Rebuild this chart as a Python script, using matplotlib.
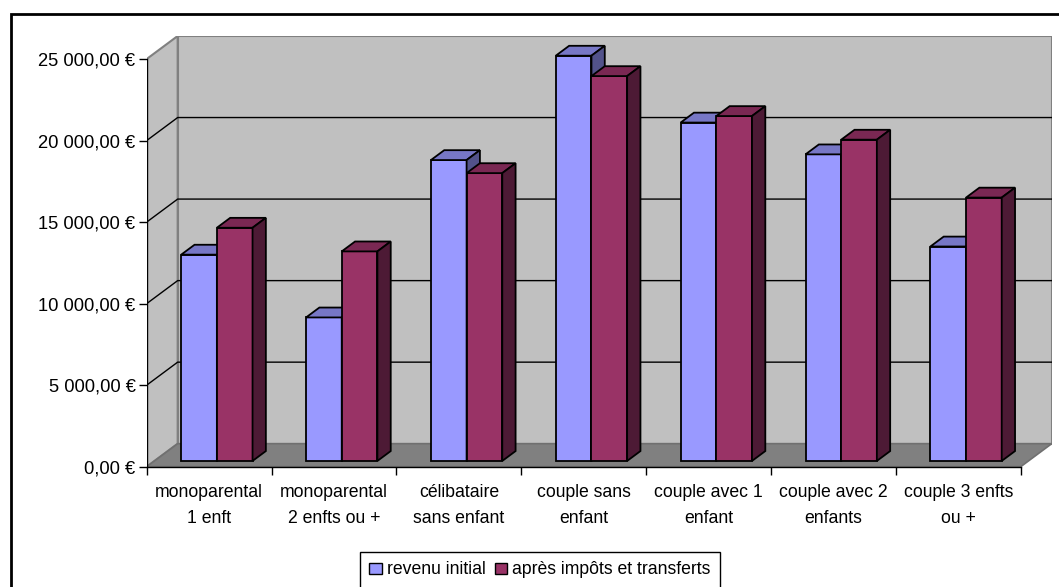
import numpy as np
import matplotlib.pyplot as plt
from matplotlib.patches import Polygon, Rectangle, Patch

plt.rcParams['font.family'] = ['Liberation Sans', 'DejaVu Sans']

categories = ["monoparental\n1 enft", "monoparental\n2 enfts ou +", "célibataire\nsans enfant",
              "couple sans\nenfant", "couple avec 1\nenfant", "couple avec 2\nenfants",
              "couple 3 enfts\nou +"]
revenu_initial = [12650, 8800, 18450, 24850, 20750, 18800, 13150]
apres_impots = [14300, 12850, 17650, 23600, 21150, 19700, 16150]
series = ["revenu initial", "après impôts et transferts"]
yticks = [0, 5000, 10000, 15000, 20000, 25000]

# colours: front, top, side
col_blue = ("#9999ff", "#7777c6", "#52528a")
col_red = ("#993366", "#7a2853", "#4d1a35")

# fake 3d depth (in data units)
DX = 0.248
DY = 1411
f0, f1 = 0.25, 0.68
w = 0.2857
ymax = 25000
n = len(categories)

fig = plt.figure(figsize=(10.59, 5.87), dpi=100)
ax = fig.add_axes([146.7/1059, 1-466.7/587, 905/1059, 430.7/587])
ax.set_xlim(0, n + DX)
ax.set_ylim(0, ymax + DY)
for s in ax.spines.values():
    s.set_visible(False)

# walls
ax.add_patch(Rectangle((DX, DY), n, ymax, facecolor="#c0c0c0", edgecolor="#808080", lw=1.5, zorder=0))
ax.add_patch(Polygon([(0, 0), (DX, DY), (DX, ymax+DY), (0, ymax)], closed=True,
                     facecolor="#c0c0c0", edgecolor="#808080", lw=1.5, zorder=0))
ax.add_patch(Polygon([(0, 0), (n, 0), (n+DX, DY), (DX, DY)], closed=True,
                     facecolor="#808080", edgecolor="#707070", lw=1.2, zorder=0.5))

# gridlines
for v in yticks[1:-1]:
    ax.plot([0, DX, n+DX], [v, v+DY, v+DY], color="black", lw=1, zorder=1)

# axes lines
ax.plot([0, 0], [0, ymax], color="black", lw=1, zorder=2)
ax.plot([0, n], [0, 0], color="black", lw=1, zorder=2, clip_on=False)

d = f1 - f0
k = 0
for i in range(n):
    for s, (vals, cols) in enumerate([(revenu_initial, col_blue), (apres_impots, col_red)]):
        v = vals[i]
        x0 = i + 0.5 - w + s*w + f0*DX
        y0 = f0*DY
        z = 3 + k*0.01
        ax.bar(x0, v, width=w, bottom=y0, align='edge', color=cols[0], edgecolor="black", lw=1.3, zorder=z)
        ax.add_patch(Polygon([(x0, y0+v), (x0+w, y0+v), (x0+w+d*DX, y0+v+d*DY), (x0+d*DX, y0+v+d*DY)],
                             closed=True, facecolor=cols[1], edgecolor="black", lw=1.3, zorder=z))
        ax.add_patch(Polygon([(x0+w, y0), (x0+w+d*DX, y0+d*DY), (x0+w+d*DX, y0+v+d*DY), (x0+w, y0+v)],
                             closed=True, facecolor=cols[2], edgecolor="black", lw=1.3, zorder=z))
        k += 1

def eur(v):
    return "{:,.2f}".format(v).replace(",", " ").replace(".", ",") + " €"

ax.set_yticks(yticks)
ax.set_yticklabels([eur(v) for v in yticks], fontsize=13.2)
ax.tick_params(axis='y', length=6, width=1, pad=2)
ax.set_xticks(range(n+1))
ax.set_xticklabels([""]*(n+1))
ax.set_xticks(np.arange(n) + 0.5, minor=True)
ax.set_xticklabels(categories, minor=True, fontsize=12.7, linespacing=1.68)
ax.tick_params(axis='x', which='major', length=6, width=1)
ax.tick_params(axis='x', which='minor', length=0, pad=12.5)

handles = [Patch(facecolor=col_blue[0], edgecolor="black", label=series[0]),
           Patch(facecolor=col_red[0], edgecolor="black", label=series[1])]
leg = fig.legend(handles=handles, ncol=2, loc='center', bbox_to_anchor=(540/1059, 1-570/587),
                 fontsize=12.7, frameon=True, fancybox=False, edgecolor="black", framealpha=1,
                 handlelength=0.7, handleheight=0.6, handletextpad=0.3, columnspacing=0.5,
                 borderpad=0.55)
leg.get_frame().set_linewidth(1)

# outer chart border (runs off the right and bottom)
fig.add_artist(Rectangle((11/1059, -0.1), 1.1, 1 - 14/587 + 0.1, transform=fig.transFigure,
                         fill=False, edgecolor="black", lw=2))

fig.savefig("out.png", dpi=100)
